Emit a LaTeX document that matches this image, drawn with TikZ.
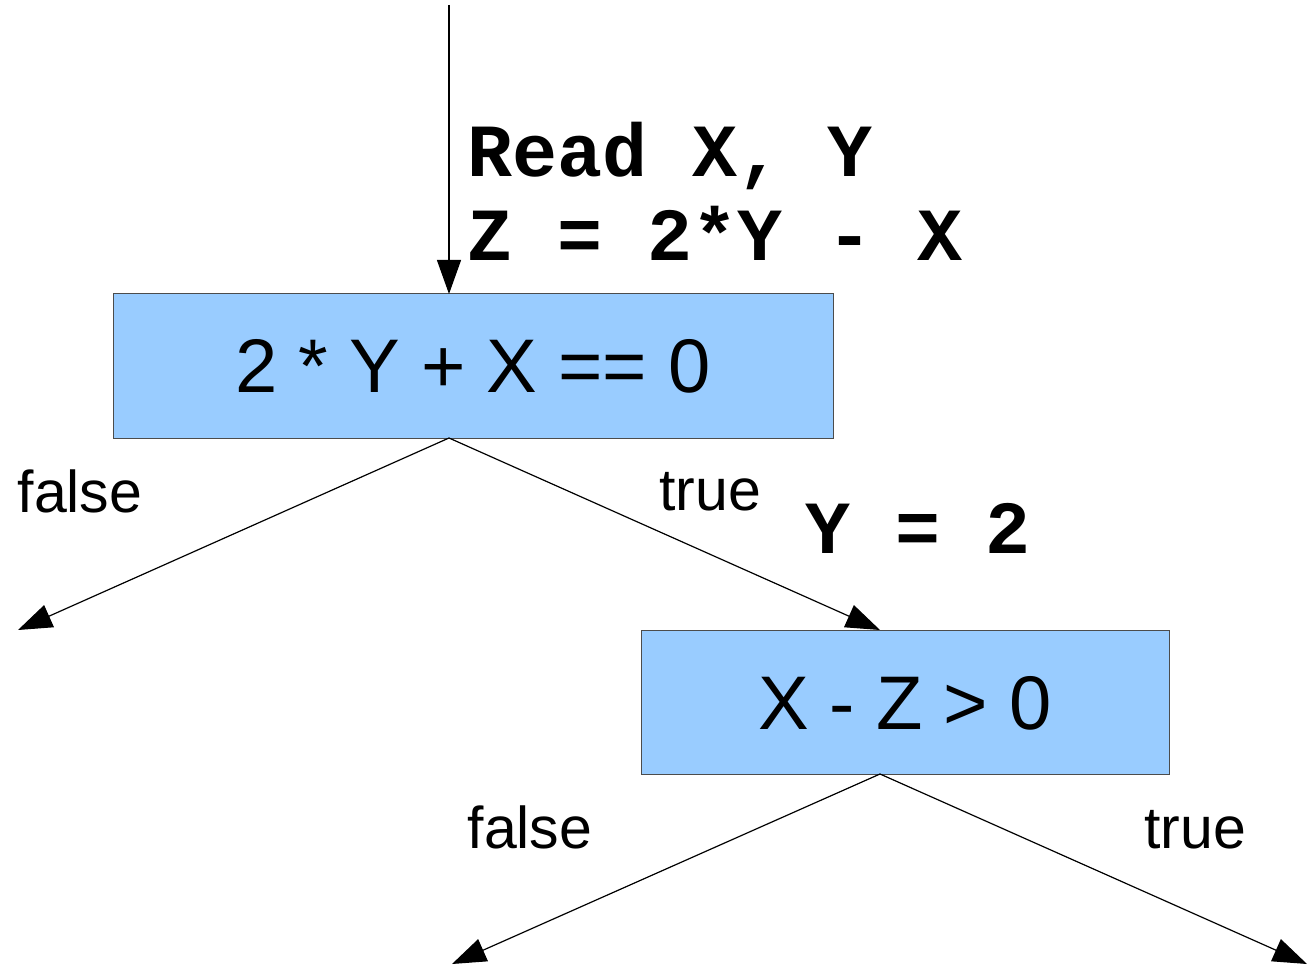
\documentclass[tikz,border=0pt]{standalone}
\usepackage{fontspec}
\setmainfont{Liberation Sans}
\newfontfamily\monob{Liberation Mono}[BoldFont={* Bold}]
\usetikzlibrary{arrows.meta}
\begin{document}
\begin{tikzpicture}[x=1pt,y=-1pt,
  cond/.style={draw=black!70,line width=1pt,fill=condblue,minimum width=#1,minimum height=144pt,inner sep=0pt},
  edge/.style={line width=1.2pt,-{Triangle[length=34pt,width=24pt]}},
  lbl/.style={anchor=base,inner sep=0pt,font=\fontsize{59}{70}\selectfont},
  code/.style={anchor=base west,inner sep=0pt,font=\fontsize{75}{84}\selectfont\monob\bfseries},
  big/.style={anchor=base,inner sep=0pt,font=\fontsize{76}{90}\selectfont}]
\definecolor{condblue}{HTML}{99CCFF}
\useasboundingbox (0,0) rectangle (1308,965);
\node[cond=720pt] (c1) at (473,366) {};
\node[cond=528pt] (c2) at (905,702) {};
\node[big] (t1) at (473,392) {2 * Y + X == 0};
\node[big] (t2) at (905,729) {X - Z > 0};
\coordinate (start) at (449,5);
\coordinate (c1in) at (449,294);
\coordinate (c1out) at (449,438);
\coordinate (c2in) at (880,630);
\coordinate (c2out) at (880,774);
\coordinate (f1) at (18,630);
\coordinate (f2) at (452,964);
\coordinate (t2end) at (1307,964);
\draw[edge] (start) -- (c1in);
\draw[edge] (c1out) -- (f1);
\draw[edge] (c1out) -- (c2in);
\draw[edge] (c2out) -- (f2);
\draw[edge] (c2out) -- (t2end);
\node[code] (r1) at (467,177) {Read X, Y};
\node[code] (r2) at (467,261) {Z = 2*Y - X};
\node[code] (r3) at (805,553) {Y = 2};
\node[lbl] (l1) at (80,512) {false};
\node[lbl] (l2) at (710,510) {true};
\node[lbl] (l3) at (530,848) {false};
\node[lbl] (l4) at (1195,848) {true};
\end{tikzpicture}
\end{document}
